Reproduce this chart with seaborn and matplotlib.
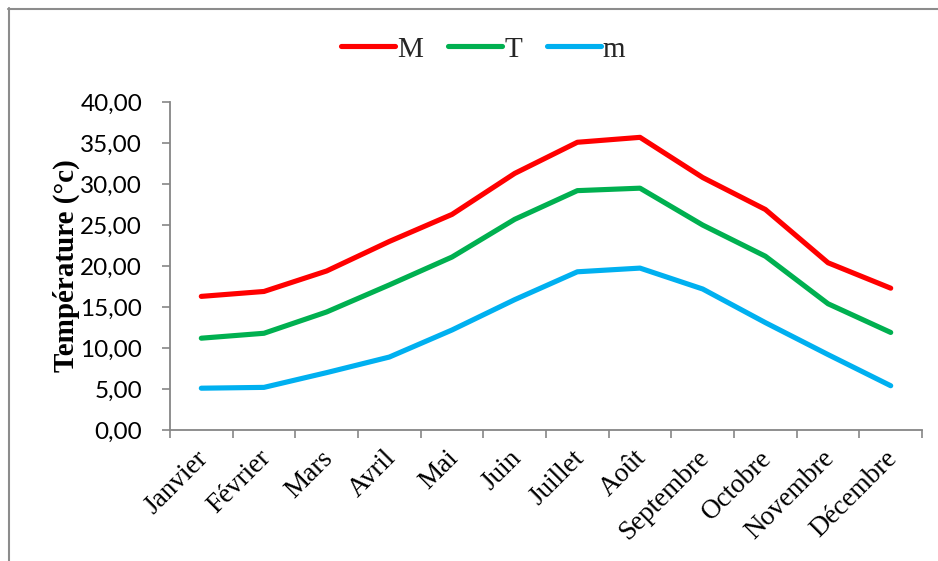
import matplotlib
matplotlib.use("Agg")
import matplotlib.pyplot as plt
import matplotlib.ticker as mticker
import matplotlib.transforms as mtransforms
from matplotlib.lines import Line2D
import seaborn as sns
import pandas as pd

# Monthly temperatures (°C): maximum (M), mean (T), minimum (m)
mois = ["Janvier", "Février", "Mars", "Avril", "Mai", "Juin", "Juillet",
        "Août", "Septembre", "Octobre", "Novembre", "Décembre"]
temp_max = [16.3, 16.9, 19.4, 23.0, 26.3, 31.3, 35.1, 35.7, 30.8, 26.9, 20.4, 17.3]
temp_moy = [11.2, 11.8, 14.4, 17.7, 21.1, 25.7, 29.2, 29.5, 25.0, 21.2, 15.4, 11.9]
temp_min = [5.1, 5.2, 7.0, 8.9, 12.2, 15.9, 19.3, 19.75, 17.2, 13.1, 9.2, 5.4]
series = ["M", "T", "m"]
couleurs = ["#FF0000", "#00B050", "#00B0F0"]
y_ticks = [0, 5, 10, 15, 20, 25, 30, 35, 40]

df = pd.DataFrame({
    "Mois": mois * 3,
    "Température": temp_max + temp_moy + temp_min,
    "Série": [s for s in series for _ in mois],
})

sns.set_theme(style="white")
plt.rcParams["font.family"] = ["Liberation Serif", "DejaVu Serif"]

fig = plt.figure(figsize=(9.38, 5.61), dpi=100)
ax = fig.add_axes([0.1812, 0.2335, 0.8018, 0.5845])

sns.lineplot(data=df, x="Mois", y="Température", hue="Série",
             palette=dict(zip(series, couleurs)), sort=False,
             linewidth=3.7, legend=False, ax=ax, solid_capstyle="round")

ax.set_xlim(-0.5, len(mois) - 0.5)
ax.set_ylim(0, 40)

# y axis: comma decimal separator
ax.set_yticks(y_ticks)
ax.yaxis.set_major_formatter(mticker.FuncFormatter(lambda v, p: f"{v:.2f}".replace(".", ",")))
ax.tick_params(axis="y", which="major", direction="out", length=6, width=1.2,
               color="#868686", left=True, pad=14, labelcolor="black")
for lab in ax.get_yticklabels():
    lab.set_fontfamily(["Lato", "DejaVu Sans"])
    lab.set_fontsize(17.5)

# x axis: category labels centred, tick marks between categories
ax.set_xticks(range(len(mois)))
ax.set_xticks([i - 0.5 for i in range(len(mois) + 1)], minor=True)
ax.tick_params(axis="x", which="major", length=0, pad=12, labelcolor="black")
ax.tick_params(axis="x", which="minor", direction="out", length=6, width=1.2,
               color="#868686", bottom=True)
ax.set_xticklabels(mois, rotation=45, ha="right", va="top",
                   rotation_mode="anchor", fontsize=19.5)
shift = mtransforms.ScaledTranslation(-6 / 100, 1 / 100, fig.dpi_scale_trans)
for lab in ax.get_xticklabels():
    lab.set_transform(lab.get_transform() + shift)

ax.set_xlabel("")
ax.set_ylabel("Température (°c)", fontsize=21, fontweight="bold",
              labelpad=0, color="black")

for side in ["top", "right"]:
    ax.spines[side].set_visible(False)
for side in ["left", "bottom"]:
    ax.spines[side].set_color("#868686")
    ax.spines[side].set_linewidth(1.3)
ax.grid(False)

handles = [Line2D([0], [0], color=c, lw=3.7, solid_capstyle="round") for c in couleurs]
fig.legend(handles, series, loc="center", bbox_to_anchor=(0.515, 0.912), ncol=3,
           frameon=False, fontsize=21, handlelength=1.85, handletextpad=0.08,
           columnspacing=0.85)

# chart frame
fig.add_artist(Line2D([8 / 938, 1.0], [1 - 8.5 / 561, 1 - 8.5 / 561],
                      transform=fig.transFigure, color="#8c8c8c", lw=1.5))
fig.add_artist(Line2D([8.5 / 938, 8.5 / 938], [0.0, 1 - 8 / 561],
                      transform=fig.transFigure, color="#8c8c8c", lw=1.5))

fig.savefig("out.png", dpi=100, facecolor="white")
